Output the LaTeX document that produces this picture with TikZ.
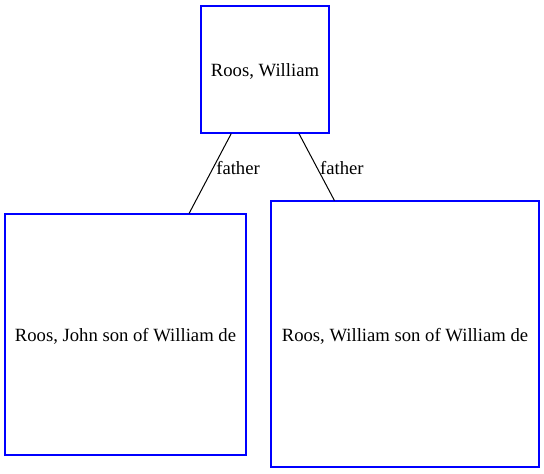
\documentclass[tikz,border=0pt]{standalone}
\usepackage{fontspec}
\setmainfont{Liberation Serif}
\usepackage{tikz}
\usetikzlibrary{positioning}
\definecolor{boxc}{RGB}{0,0,255}

\begin{document}
\begin{tikzpicture}[x=0.75pt,y=-0.75pt,
    person/.style={draw=boxc,line width=0.8pt,rectangle,inner sep=0pt,text height=11pt,text depth=0pt,font=\fontsize{14}{16}\selectfont},
    kin/.style={draw=black,line width=0.75pt},
    kinlabel/.style={anchor=west,inner sep=2pt,font=\fontsize{14}{16}\selectfont}]
  \useasboundingbox (0,0) rectangle (544,474);
  \node[person,minimum width=128*0.75pt,minimum height=127*0.75pt] (william) at (265,69.5) {Roos, William};
  \node[person,minimum width=241*0.75pt,minimum height=241*0.75pt] (john) at (125.5,334.5) {Roos, John son of William de};
  \node[person,minimum width=268*0.75pt,minimum height=266*0.75pt] (williamjr) at (405,334) {Roos, William son of William de};
  \draw[kin] (william) -- node[kinlabel,pos=0.43] (f1) {father} (john);
  \draw[kin] (william) -- node[kinlabel,pos=0.51] (f2) {father} (williamjr);
\end{tikzpicture}
\end{document}
